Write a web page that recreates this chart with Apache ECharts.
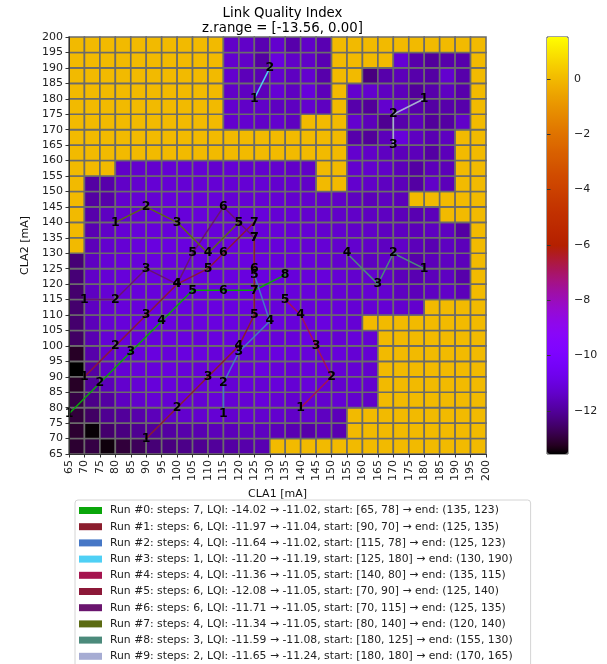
<!DOCTYPE html>
<html>
<head>
<meta charset="utf-8">
<script src="https://cdn.jsdelivr.net/npm/echarts@6/dist/echarts.min.js"></script>
<style>
  html, body { margin: 0; padding: 0; background: #fff; }
  #chart { width: 607px; height: 664px; }
</style>
</head>
<body>
<div id="chart"></div>
<script>
// 网格坐标 (mA)，每格 5 mA
const xStarts = [65, 70, 75, 80, 85, 90, 95, 100, 105, 110, 115, 120, 125, 130, 135, 140, 145, 150, 155, 160, 165, 170, 175, 180, 185, 190, 195];
const yStarts = [65, 70, 75, 80, 85, 90, 95, 100, 105, 110, 115, 120, 125, 130, 135, 140, 145, 150, 155, 160, 165, 170, 175, 180, 185, 190, 195];
const cellSize = 5;

// LQI 值，每行对应一个 CLA2 起点（从 65 开始向上）
const lqiRows = [
  [-13.1, -12.9, -13.45, -13.0, -12.7, -12.4, -12.3, -12.2, -12.1, -12.0, -11.9, -11.8, -11.7, 0, 0, 0, 0, 0, 0, 0, 0, 0, 0, 0, 0, 0, 0],
  [-13.1, -13.5, -12.5, -12.3, -12.1, -12.0, -11.9, -11.8, -11.7, -11.6, -11.6, -11.5, -11.5, -11.6, -11.7, -11.8, -11.6, -11.7, 0, 0, 0, 0, 0, 0, 0, 0, 0],
  [-13.0, -12.6, -12.1, -12.0, -11.8, -11.6, -11.4, -11.3, -11.3, -11.2, -11.3, -11.2, -11.3, -11.3, -11.4, -11.3, -11.5, -11.6, 0, 0, 0, 0, 0, 0, 0, 0, 0],
  [-12.9, -12.2, -11.9, -11.5, -11.3, -11.2, -11.2, -11.1, -11.2, -11.1, -11.2, -11.2, -11.1, -11.2, -11.3, -11.2, -11.3, -11.2, -11.3, -11.4, 0, 0, 0, 0, 0, 0, 0],
  [-13.2, -12.0, -11.6, -11.3, -11.2, -11.1, -11.1, -11.2, -11.1, -11.1, -11.2, -11.1, -11.2, -11.1, -11.2, -11.1, -11.2, -11.3, -11.2, -11.3, 0, 0, 0, 0, 0, 0, 0],
  [-13.56, -11.9, -11.4, -11.2, -11.1, -11.1, -11.0, -11.1, -11.1, -11.0, -11.1, -11.1, -11.0, -11.1, -11.2, -11.1, -11.1, -11.2, -11.2, -11.3, 0, 0, 0, 0, 0, 0, 0],
  [-13.2, -11.8, -11.3, -11.2, -11.1, -11.0, -11.1, -11.0, -11.0, -11.1, -11.0, -11.1, -11.1, -11.0, -11.1, -11.1, -11.2, -11.1, -11.2, -11.2, 0, 0, 0, 0, 0, 0, 0],
  [-12.6, -11.7, -11.2, -11.1, -11.1, -11.1, -11.0, -11.0, -11.1, -11.0, -11.0, -11.0, -11.1, -11.1, -11.1, -11.0, -11.1, -11.2, -11.1, -11.2, 0, 0, 0, 0, 0, 0, 0],
  [-12.5, -11.6, -11.2, -11.1, -11.0, -11.0, -11.0, -11.1, -11.0, -11.0, -11.0, -11.1, -11.0, -11.0, -11.1, -11.1, -11.0, -11.1, -11.2, 0, 0, 0, 0, 0, 0, 0, 0],
  [-12.5, -11.5, -11.2, -11.1, -11.1, -11.0, -11.1, -11.0, -11.0, -11.0, -11.0, -11.0, -11.0, -11.1, -11.0, -11.1, -11.1, -11.1, -11.2, -11.2, -11.2, -11.3, -11.3, 0, 0, 0, 0],
  [-12.5, -11.5, -11.2, -11.1, -11.1, -11.1, -11.0, -11.0, -11.0, -11.0, -11.0, -11.0, -11.0, -11.1, -11.1, -11.1, -11.2, -11.2, -11.3, -11.2, -11.3, -11.5, -11.6, -11.5, -11.4, -11.6, 0],
  [-12.4, -11.4, -11.2, -11.1, -11.0, -11.0, -11.0, -11.0, -11.0, -11.0, -11.0, -11.0, -11.0, -11.0, -11.1, -11.1, -11.1, -11.2, -11.3, -11.3, -11.4, -11.6, -11.7, -11.6, -11.5, -11.8, 0],
  [-12.4, -11.5, -11.2, -11.1, -11.1, -11.0, -11.0, -11.0, -11.0, -11.0, -11.0, -11.0, -11.0, -11.1, -11.1, -11.1, -11.2, -11.3, -11.4, -11.5, -11.4, -11.5, -11.8, -11.6, -11.5, -11.6, 0],
  [0, -11.6, -11.3, -11.2, -11.1, -11.0, -11.0, -11.0, -11.0, -11.1, -11.0, -11.0, -11.1, -11.1, -11.1, -11.2, -11.2, -11.3, -11.3, -11.4, -11.5, -11.4, -11.6, -11.7, -11.5, -11.6, 0],
  [0, -11.7, -11.4, -11.2, -11.1, -11.1, -11.1, -11.0, -11.0, -11.1, -11.1, -11.1, -11.1, -11.1, -11.2, -11.2, -11.3, -11.3, -11.4, -11.4, -11.5, -11.5, -11.6, -11.5, -11.5, -11.9, 0],
  [0, -11.8, -11.5, -11.3, -11.2, -11.1, -11.1, -11.1, -11.1, -11.1, -11.1, -11.1, -11.1, -11.2, -11.2, -11.3, -11.3, -11.4, -11.4, -11.5, -11.5, -11.6, -11.7, -11.6, 0, 0, 0],
  [0, -11.9, -11.8, -11.3, -11.2, -11.2, -11.1, -11.1, -11.1, -11.1, -11.2, -11.2, -11.2, -11.2, -11.3, -11.3, -11.4, -11.4, -11.5, -11.6, -11.5, -11.6, 0, 0, 0, 0, 0],
  [0, -11.9, -11.8, -11.4, -11.3, -11.2, -11.2, -11.2, -11.2, -11.2, -11.2, -11.2, -11.2, -11.3, -11.3, -11.4, 0, 0, -11.3, -11.4, -11.5, -11.6, -11.9, -11.4, -11.6, 0, 0],
  [0, 0, 0, -11.4, -11.3, -11.3, -11.2, -11.2, -11.2, -11.3, -11.2, -11.3, -11.3, -11.3, -11.4, -11.4, 0, 0, -11.3, -11.3, -11.4, -11.6, -11.9, -11.6, -11.6, 0, 0],
  [0, 0, 0, 0, 0, 0, 0, 0, 0, 0, 0, 0, 0, 0, 0, 0, 0, 0, -11.3, -11.4, -11.5, -11.6, -11.6, -11.9, -11.6, 0, 0],
  [0, 0, 0, 0, 0, 0, 0, 0, 0, 0, 0, 0, 0, 0, 0, 0, 0, 0, -11.8, -12.0, -11.6, -11.1, -11.5, -11.7, -11.5, 0, 0],
  [0, 0, 0, 0, 0, 0, 0, 0, 0, 0, -11.3, -11.3, -11.4, -11.3, -11.5, 0, 0, 0, -11.3, -11.6, -12.1, -11.8, -11.6, -12.0, -11.9, -11.4, 0],
  [0, 0, 0, 0, 0, 0, 0, 0, 0, 0, -11.3, -11.4, -11.4, -11.5, -11.5, -11.3, -11.5, 0, -11.8, -12.0, -11.3, -11.3, -11.8, -11.9, -11.8, -11.8, 0],
  [0, 0, 0, 0, 0, 0, 0, 0, 0, 0, -11.4, -11.5, -11.6, -11.2, -11.5, -11.1, -11.6, 0, -11.3, -11.3, -11.5, -11.6, -12.0, -11.8, -11.5, -11.8, 0],
  [0, 0, 0, 0, 0, 0, 0, 0, 0, 0, -11.3, -11.6, -11.7, -11.3, -11.5, -11.3, -11.8, 0, 0, -12.3, -11.8, -11.6, -11.8, -11.9, -11.3, -11.8, 0],
  [0, 0, 0, 0, 0, 0, 0, 0, 0, 0, -11.3, -11.4, -11.9, -11.0, -11.4, -11.4, -11.7, 0, 0, 0, 0, -11.2, -11.8, -12.0, -11.8, -11.8, 0],
  [0, 0, 0, 0, 0, 0, 0, 0, 0, 0, -11.4, -11.4, -11.7, -11.3, -11.8, -11.4, -11.7, 0, 0, 0, 0, 0, 0, 0, 0, 0, 0]
];

// 色标范围与刻度
const zMin = -13.56;
const zMax = 1.51;
const cbarTicks = [-12, -10, -8, -6, -4, -2, 0];

// 各次优化路径 (CLA1, CLA2)
const runPoints = [
  [[65, 78], [75, 88], [85, 98], [95, 108], [105, 118], [115, 118], [125, 118], [135, 123]],
  [[90, 70], [100, 80], [110, 90], [120, 100], [125, 110], [125, 125], [125, 135]],
  [[115, 78], [115, 88], [120, 98], [130, 108], [125, 123]],
  [[125, 180], [130, 190]],
  [[140, 80], [150, 90], [145, 100], [140, 110], [135, 115]],
  [[70, 90], [80, 100], [90, 110], [100, 120], [110, 125], [115, 130], [125, 140]],
  [[70, 115], [80, 115], [90, 125], [100, 120], [105, 130], [115, 145], [125, 135]],
  [[80, 140], [90, 145], [100, 140], [110, 130], [120, 140]],
  [[180, 125], [170, 130], [165, 120], [155, 130]],
  [[180, 180], [170, 175], [170, 165]]
];
const runColors = ['#0aa60a', '#8b1d2d', '#4677c6', '#4fd0f5', '#a5144f', '#8c1838', '#6a156e', '#5c6b12', '#4b8a7b', '#a6acd3'];
const runLegend = [
  'Run #0: steps: 7, LQI: -14.02 \u2192 -11.02, start: [65, 78] \u2192 end: (135, 123)',
  'Run #1: steps: 6, LQI: -11.97 \u2192 -11.04, start: [90, 70] \u2192 end: (125, 135)',
  'Run #2: steps: 4, LQI: -11.64 \u2192 -11.02, start: [115, 78] \u2192 end: (125, 123)',
  'Run #3: steps: 1, LQI: -11.20 \u2192 -11.19, start: [125, 180] \u2192 end: (130, 190)',
  'Run #4: steps: 4, LQI: -11.36 \u2192 -11.05, start: [140, 80] \u2192 end: (135, 115)',
  'Run #5: steps: 6, LQI: -12.08 \u2192 -11.05, start: [70, 90] \u2192 end: (125, 140)',
  'Run #6: steps: 6, LQI: -11.71 \u2192 -11.05, start: [70, 115] \u2192 end: (125, 135)',
  'Run #7: steps: 4, LQI: -11.34 \u2192 -11.05, start: [80, 140] \u2192 end: (120, 140)',
  'Run #8: steps: 3, LQI: -11.59 \u2192 -11.08, start: [180, 125] \u2192 end: (155, 130)',
  'Run #9: steps: 2, LQI: -11.65 \u2192 -11.24, start: [180, 180] \u2192 end: (170, 165)'
];

const FONT = 'DejaVu Sans';

// gnuplot 色图
const gnuplotColors = [];
for (let k = 0; k <= 64; k++) {
  const t = k / 64;
  const r = Math.sqrt(t);
  const g = Math.pow(t, 3);
  const b = Math.min(1, Math.max(0, Math.sin(2 * Math.PI * t)));
  const hex = v => Math.round(v * 255).toString(16).padStart(2, '0');
  gnuplotColors.push('#' + hex(r) + hex(g) + hex(b));
}

const cells = [];
lqiRows.forEach((row, j) => {
  row.forEach((v, i) => cells.push([xStarts[i], yStarts[j], v]));
});

const minus = v => String(v).replace('-', '\u2212');

const chart = echarts.init(document.getElementById('chart'));

const option = {
  animation: false,
  backgroundColor: '#fff',
  textStyle: { fontFamily: FONT },
  title: {
    text: 'Link Quality Index\nz.range = [-13.56, 0.00]',
    left: 277.5,
    top: 1,
    textAlign: 'center',
    textStyle: { fontFamily: FONT, fontSize: 13.3, fontWeight: 'normal', color: '#000', lineHeight: 15 }
  },
  grid: [
    { left: 69, top: 37, width: 417, height: 417 },
    { left: 547, top: 37, width: 21, height: 417, show: true, borderColor: '#444', borderWidth: 1, backgroundColor: 'transparent' }
  ],
  xAxis: [
    {
      type: 'value', gridIndex: 0, min: 65, max: 200, interval: 5, z: 10,
      name: 'CLA1 [mA]', nameLocation: 'middle', nameGap: 33,
      nameTextStyle: { fontFamily: FONT, fontSize: 11, color: '#111' },
      axisLine: { show: true, lineStyle: { color: '#333', width: 1 } },
      axisTick: { show: true, length: 3.5, lineStyle: { color: '#333' } },
      axisLabel: { rotate: 90, margin: 6, fontSize: 11, color: '#222', fontFamily: FONT },
      splitLine: { show: false }
    },
    { type: 'value', gridIndex: 1, min: 0, max: 1, show: false }
  ],
  yAxis: [
    {
      type: 'value', gridIndex: 0, min: 65, max: 200, interval: 5, z: 10,
      name: 'CLA2 [mA]', nameLocation: 'middle', nameGap: 33, nameRotate: 90,
      nameTextStyle: { fontFamily: FONT, fontSize: 11, color: '#111' },
      axisLine: { show: true, lineStyle: { color: '#333', width: 1 } },
      axisTick: { show: true, length: 3.5, lineStyle: { color: '#333' } },
      axisLabel: { margin: 6, fontSize: 11, color: '#222', fontFamily: FONT },
      splitLine: { show: false }
    },
    {
      type: 'value', gridIndex: 1, min: zMin, max: zMax, position: 'right', z: 10,
      axisLine: { show: false },
      axisTick: { show: true, length: 3.5, customValues: cbarTicks, lineStyle: { color: '#333' } },
      axisLabel: { show: true, customValues: cbarTicks, margin: 6, fontSize: 11, color: '#222', fontFamily: FONT, formatter: minus },
      splitLine: { show: false }
    }
  ],
  visualMap: {
    type: 'continuous',
    seriesIndex: 0,
    dimension: 2,
    min: zMin,
    max: zMax,
    calculable: false,
    left: 547,
    top: 37,
    itemWidth: 21,
    itemHeight: 417,
    padding: 0,
    text: null,
    inRange: { color: gnuplotColors }
  },
  legend: {
    orient: 'vertical',
    left: 75,
    top: 500,
    height: 200,
    icon: 'rect',
    itemWidth: 23,
    itemHeight: 7,
    itemGap: 3.2,
    padding: [4, 18, 5, 4],
    borderColor: '#d4d4d4',
    borderWidth: 1,
    borderRadius: 3,
    backgroundColor: '#fff',
    selectedMode: false,
    textStyle: { fontFamily: FONT, fontSize: 10.8, color: '#222', lineHeight: 13, padding: [0, 0, 0, 3] },
    data: runLegend
  },
  series: [
    {
      type: 'custom',
      xAxisIndex: 0,
      yAxisIndex: 0,
      data: cells,
      encode: { x: 0, y: 1 },
      silent: true,
      renderItem: (params, api) => {
        const x0 = api.value(0);
        const y0 = api.value(1);
        const p1 = api.coord([x0, y0 + cellSize]);
        const p2 = api.coord([x0 + cellSize, y0]);
        return {
          type: 'rect',
          shape: { x: p1[0], y: p1[1], width: p2[0] - p1[0], height: p2[1] - p1[1] },
          style: { fill: api.visual('color'), stroke: '#6b6b6b', lineWidth: 1.6 }
        };
      }
    },
    ...runPoints.map((pts, k) => ({
      name: runLegend[k],
      type: 'line',
      xAxisIndex: 0,
      yAxisIndex: 0,
      data: pts,
      z: 3,
      symbol: 'circle',
      symbolSize: 1,
      showSymbol: true,
      showAllSymbol: true,
      clip: false,
      itemStyle: { color: runColors[k] },
      lineStyle: { color: runColors[k], width: 1.5 },
      emphasis: { disabled: true },
      label: {
        show: true,
        position: 'inside',
        formatter: p => String(p.dataIndex + 1),
        fontFamily: FONT,
        fontSize: 12.5,
        fontWeight: 'bold',
        color: '#000'
      }
    }))
  ]
};

chart.setOption(option);
window.addEventListener('resize', () => chart.resize());
</script>
</body>
</html>
